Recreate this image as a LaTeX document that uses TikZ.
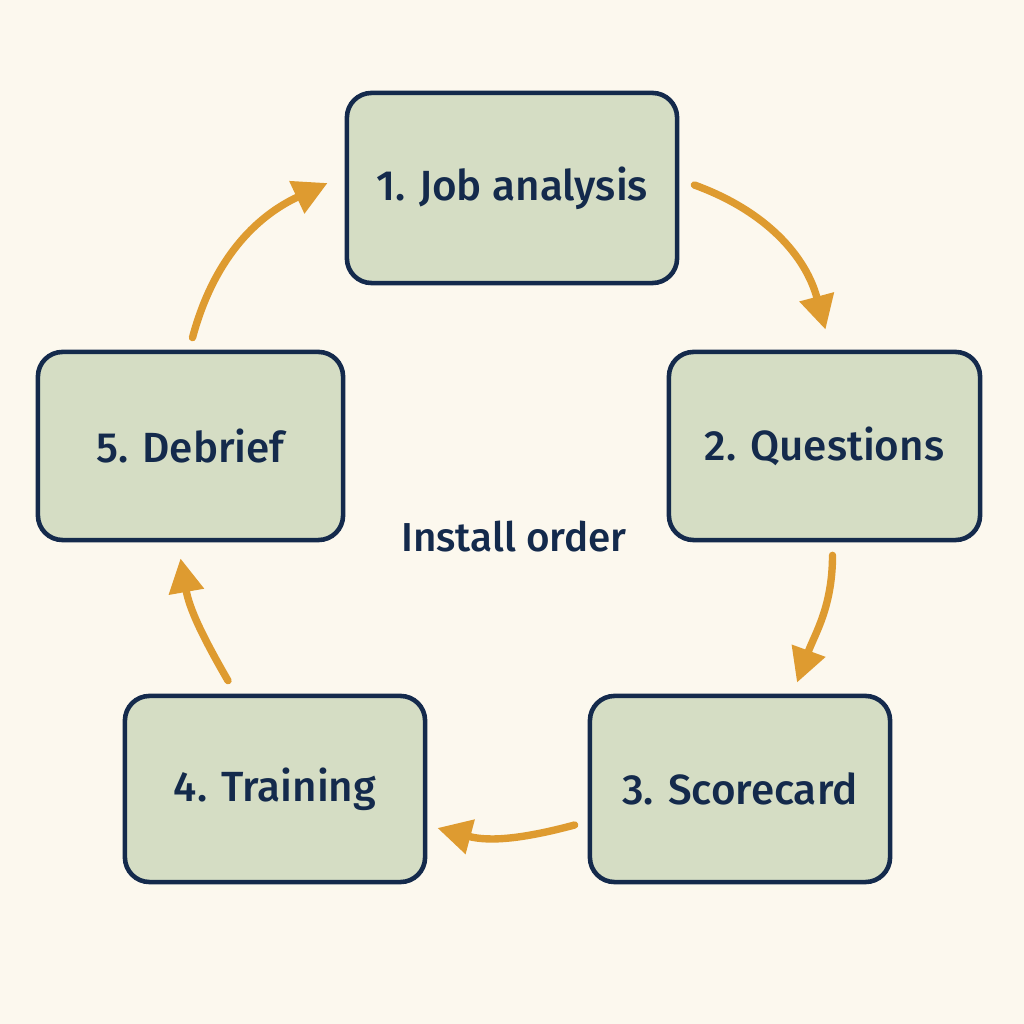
\documentclass[tikz,border=0pt]{standalone}
\usepackage{fontspec}
\setmainfont{Fira Sans}
\newfontfamily\labelfont{Fira Sans Medium}
\usetikzlibrary{arrows.meta}
\definecolor{cream}{RGB}{252,248,238}
\definecolor{sage}{RGB}{213,221,196}
\definecolor{navy}{RGB}{20,42,76}
\definecolor{amber}{RGB}{222,155,48}
\tikzset{
  stepbox/.style={draw=navy, fill=sage, line width=1.3pt, rounded corners=7pt,
                  text=navy, inner sep=0pt, font=\labelfont\fontsize{12}{14}\selectfont},
  flow/.style={-{Triangle[length=3.4mm, width=3.4mm]}, draw=amber, line width=2.1pt, line cap=round},
}

\begin{document}
\begin{tikzpicture}[x=0.01cm, y=0.01cm]
  \fill[cream] (0,0) rectangle (1024,1024);

  % the five steps
  \node[stepbox, minimum width=3.3cm, minimum height=1.9cm]    (b1) at (512,836)   {1. Job analysis};
  \node[stepbox, minimum width=3.11cm, minimum height=1.88cm]  (b2) at (824.5,578) {2. Questions};
  \node[stepbox, minimum width=3.0cm, minimum height=1.86cm]   (b3) at (740,235)   {3. Scorecard};
  \node[stepbox, minimum width=3.0cm, minimum height=1.86cm]   (b4) at (275,235)   {4. Training};
  \node[stepbox, minimum width=3.05cm, minimum height=1.88cm]  (b5) at (190.5,578) {5. Debrief};
  \node[text=navy, font=\labelfont\fontsize{11.5}{14}\selectfont] (title) at (514,487) {Install order};

  % cycle arrows
  \draw[flow] ([shift={(15,3)}]b1.east)    to[out=-20, in=105] ([shift={(1,20)}]b2.north);
  \draw[flow] ([shift={(8,-13)}]b2.south)  to[out=-90, in=70]  ([shift={(57,11)}]b3.north);
  \draw[flow] ([shift={(-13,-36)}]b3.west) to[out=195, in=-15] ([shift={(10,-39)}]b4.east);
  \draw[flow] ([shift={(-47,13)}]b4.north) to[out=120, in=-80] ([shift={(-10,-16)}]b5.south);
  \draw[flow] ([shift={(2,12)}]b5.north)   to[out=75, in=205]  ([shift={(-17,5)}]b1.west);
\end{tikzpicture}
\end{document}
